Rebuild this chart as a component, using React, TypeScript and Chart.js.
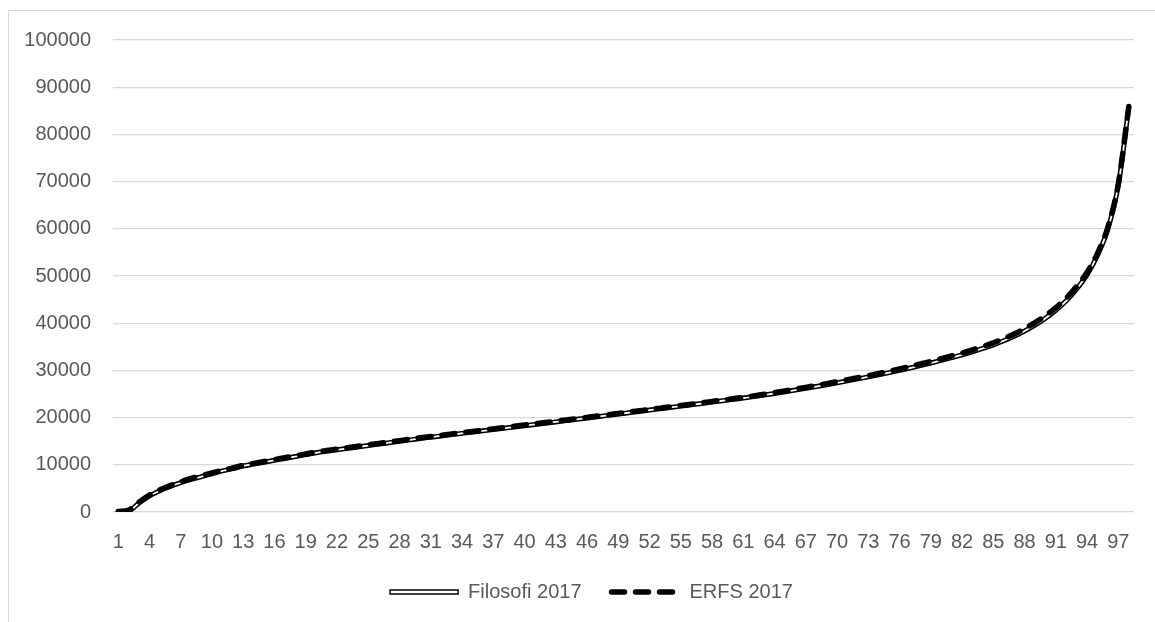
import React, { useEffect, useRef } from "react";
import Chart from "chart.js/auto";

const categories: string[] = Array.from({ length: 98 }, (_, i) => String(i + 1));

const filosofi2017: number[] = [
  0, 200, 1900, 3400, 4500, 5400, 6200, 6900, 7500, 8100,
  8700, 9200, 9750, 10150, 10550, 10950, 11350, 11750, 12150, 12550,
  12880, 13180, 13480, 13780, 14080, 14380, 14680, 14980, 15280, 15580,
  15850, 16120, 16390, 16660, 16930, 17200, 17470, 17740, 18010, 18280,
  18550, 18820, 19090, 19360, 19630, 19910, 20190, 20470, 20750, 21030,
  21310, 21590, 21870, 22150, 22430, 22710, 22990, 23280, 23570, 23860,
  24150, 24450, 24780, 25120, 25470, 25830, 26200, 26580, 26970, 27370,
  27780, 28200, 28630, 29070, 29530, 30010, 30500, 31020, 31560, 32120,
  32700, 33300, 33950, 34650, 35420, 36280, 37250, 38350, 39600, 41050,
  42750, 44750, 47250, 50300, 54400, 60000, 69300, 85800,
];

const erfs2017: number[] = [
  100, 400, 2100, 3600, 4700, 5600, 6400, 7100, 7700, 8300,
  8850, 9350, 9900, 10300, 10700, 11100, 11500, 11900, 12300, 12700,
  13020, 13320, 13620, 13920, 14220, 14520, 14820, 15120, 15420, 15720,
  15990, 16260, 16530, 16800, 17070, 17340, 17610, 17880, 18150, 18420,
  18690, 18960, 19230, 19500, 19770, 20050, 20330, 20610, 20890, 21170,
  21450, 21730, 22010, 22290, 22570, 22850, 23130, 23420, 23710, 24000,
  24300, 24600, 24950, 25300, 25660, 26030, 26410, 26800, 27200, 27610,
  28030, 28460, 28900, 29350, 29820, 30310, 30820, 31350, 31900, 32470,
  33060, 33680, 34350, 35060, 35850, 36730, 37720, 38850, 40120, 41600,
  43300, 45300, 47800, 50800, 54800, 60400, 69600, 85900,
];

const seriesNames: string[] = ["Filosofi 2017", "ERFS 2017"];

const FONT = "'Liberation Sans', Arial, sans-serif";
const FONT_SIZE = 20;
const TEXT = "#595959";
const GRID = "#d9d9d9";

const legendShift = {
  id: "legendShift",
  afterLayout(chart: any) {
    if (chart.legend) {
      chart.legend.left += 49;
    }
  },
};

export default function App() {
  const ref = useRef<HTMLCanvasElement | null>(null);

  useEffect(() => {
    if (!ref.current) return;
    const chart = new Chart(ref.current, {
      type: "line",
      plugins: [legendShift],
      data: {
        labels: categories,
        datasets: [
          {
            label: seriesNames[0],
            data: filosofi2017,
            borderColor: "#000000",
            backgroundColor: "#ffffff",
            borderWidth: 5,
            pointRadius: 0,
            cubicInterpolationMode: "monotone",
            borderCapStyle: "round",
            borderJoinStyle: "round",
            order: 3,
          },
          {
            label: "__core",
            data: filosofi2017,
            borderColor: "#ffffff",
            borderWidth: 1.8,
            pointRadius: 0,
            cubicInterpolationMode: "monotone",
            borderCapStyle: "round",
            order: 2,
          },
          {
            label: seriesNames[1],
            data: erfs2017,
            borderColor: "#000000",
            backgroundColor: "#000000",
            borderWidth: 5.5,
            borderDash: [13, 11],
            pointRadius: 0,
            cubicInterpolationMode: "monotone",
            borderCapStyle: "round",
            borderJoinStyle: "round",
            order: 1,
          },
        ],
      },
      options: {
        animation: false,
        responsive: true,
        maintainAspectRatio: false,
        layout: { padding: { left: 0, right: 21, top: 40, bottom: 10 } },
        plugins: {
          tooltip: { enabled: false },
          legend: {
            position: "bottom",
            align: "center",
            labels: {
              usePointStyle: true,
              pointStyleWidth: 68,
              boxHeight: 4,
              padding: 30,
              color: TEXT,
              font: { family: FONT, size: FONT_SIZE },
              generateLabels: (c: any) => {
                const items = Chart.defaults.plugins.legend.labels.generateLabels(c);
                return items
                  .filter((it: any) => it.text !== "__core")
                  .sort((a: any, b: any) => a.datasetIndex - b.datasetIndex)
                  .map((it: any) => {
                    if (it.datasetIndex === 0) {
                      return { ...it, pointStyle: "rect", fillStyle: "#ffffff", strokeStyle: "#000000", lineWidth: 1.5, lineDash: [] };
                    }
                    return { ...it, pointStyle: "line", strokeStyle: "#000000", lineWidth: 5.5, lineDash: [13, 11], lineCap: "round" };
                  });
              },
            },
          },
        },
        scales: {
          x: {
            offset: true,
            grid: { display: false, drawTicks: false },
            border: { display: false },
            afterFit: (s: any) => { s.height = 40; },
            ticks: {
              autoSkip: false,
              maxRotation: 0,
              padding: 18,
              color: TEXT,
              font: { family: FONT, size: FONT_SIZE },
              callback: (_v: any, i: number) => (i % 3 === 0 ? categories[i] : ""),
            },
          },
          y: {
            min: 0,
            max: 100000,
            grid: { color: GRID, lineWidth: 1.3, drawTicks: false },
            border: { display: false },
            afterFit: (s: any) => { s.width = 113; },
            ticks: {
              stepSize: 10000,
              padding: 22,
              color: TEXT,
              font: { family: FONT, size: FONT_SIZE },
              callback: (v: any) => String(v),
            },
          },
        },
      },
    });
    return () => chart.destroy();
  }, []);

  return (
    <div style={{ position: "fixed", left: 0, top: 0, width: 1155, height: 622, overflow: "hidden", background: "#fff" }}>
      <div style={{ position: "absolute", left: 8, top: 10, width: 1300, height: 800, border: "1.5px solid #d9d9d9" }} />
      <div style={{ position: "absolute", left: 0, top: 0, width: 1155, height: 622 }}>
        <canvas ref={ref} />
      </div>
    </div>
  );
}
